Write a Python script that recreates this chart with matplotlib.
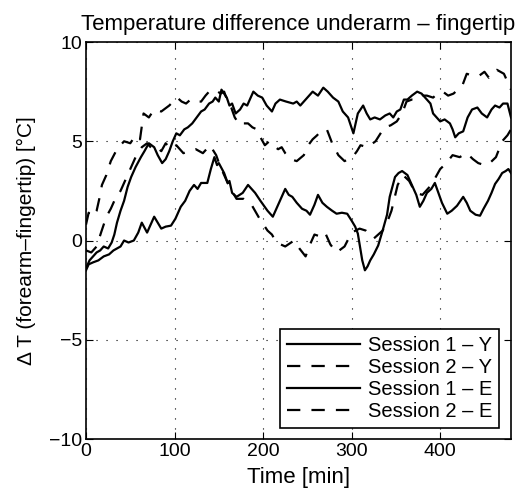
import numpy as np
import matplotlib.pyplot as plt

plt.rcParams['font.family'] = ['Liberation Sans', 'DejaVu Sans']
plt.rcParams['axes.unicode_minus'] = True

# Session 1 - Y (upper solid)
t_s1y = [0, 4, 8, 12, 16, 20, 25, 29, 32, 35, 39, 43, 47, 51, 56, 62, 66, 71, 74, 77, 81, 86, 90, 94,
         98, 102, 106, 111, 115, 120, 125, 130, 134, 139, 143, 146, 150, 153, 156, 159, 162, 165, 169,
         174, 178, 182, 186, 189, 194, 199, 204, 210, 214, 219, 226, 234, 238, 242, 248, 256, 262, 268,
         273, 279, 285, 290, 296, 302, 307, 313, 317, 321, 326, 332, 338, 343, 347, 351, 355, 359, 363,
         368, 374, 379, 385, 389, 392, 396, 400, 405, 411, 414, 417, 421, 426, 431, 436, 442, 447, 453,
         458, 462, 467, 471, 476, 480]
v_s1y = [-1.4, -1.0, -0.8, -0.6, -0.5, -0.3, -0.4, -0.1, 0.3, 0.9, 1.5, 2.0, 2.7, 3.2, 3.7, 4.2, 4.5,
         4.9, 4.8, 4.7, 4.3, 3.9, 4.1, 4.5, 5.0, 5.4, 5.3, 5.6, 5.7, 5.9, 6.2, 6.5, 6.6, 6.9, 7.0, 7.2,
         7.0, 7.6, 7.4, 7.2, 6.8, 6.9, 6.4, 6.6, 6.9, 6.8, 7.2, 7.5, 7.3, 7.2, 6.8, 6.5, 6.9, 7.1, 7.0,
         6.9, 7.0, 6.8, 7.1, 7.5, 7.3, 7.7, 7.5, 7.2, 7.0, 6.5, 6.2, 5.4, 6.4, 6.8, 6.4, 6.1, 6.2, 6.1,
         6.3, 6.4, 6.2, 6.5, 6.6, 7.1, 7.1, 7.3, 7.5, 7.4, 7.1, 6.9, 6.4, 6.2, 6.0, 6.1, 5.9, 5.6, 5.2,
         5.4, 5.5, 6.2, 6.6, 6.7, 6.4, 6.2, 6.6, 6.8, 6.7, 6.9, 6.9, 6.2]

# Session 2 - Y (upper dashed)
t_s2y = [0, 3, 7, 12, 15, 18, 23, 28, 35, 43, 50, 56, 61, 65, 71, 77, 85, 94, 103, 108, 113, 118, 122,
         130, 135, 139, 146, 152, 156, 160, 164, 168, 174, 178, 183, 188, 193, 197, 202, 207, 211, 217,
         221, 225, 231, 238, 246, 251, 256, 261, 265, 272, 278, 285, 292, 301, 306, 310, 318, 327, 337,
         344, 351, 357, 362, 368, 375, 380, 385, 392, 397, 403, 409, 415, 420, 425, 430, 437, 444, 450,
         455, 460, 464, 468, 472, 477, 480]
v_s2y = [0.8, 1.4, 1.2, 1.5, 2.1, 2.8, 3.3, 4.0, 4.6, 5.0, 4.9, 5.3, 5.1, 6.4, 6.2, 6.6, 6.5, 6.8, 7.2,
         7.0, 6.9, 7.1, 7.0, 7.0, 7.3, 7.5, 7.6, 7.4, 7.5, 7.0, 6.7, 6.2, 5.8, 5.9, 5.9, 5.7, 5.6, 5.2,
         4.8, 5.0, 4.8, 4.6, 4.7, 4.4, 4.1, 4.0, 4.3, 4.8, 5.1, 5.3, 5.5, 5.6, 4.9, 4.3, 4.0, 4.2, 4.5,
         4.8, 4.7, 5.0, 5.7, 5.8, 6.0, 6.4, 7.0, 7.1, 7.1, 7.3, 7.3, 7.2, 7.4, 7.5, 7.3, 7.4, 7.6, 7.8,
         8.4, 8.3, 8.3, 8.5, 8.2, 8.4, 8.6, 8.5, 8.4, 7.9, 7.6]

# Session 1 - E (lower solid)
t_s1e = [0, 3, 8, 14, 20, 26, 31, 35, 39, 43, 48, 54, 59, 63, 69, 73, 77, 81, 85, 90, 96, 101, 107, 112,
         117, 122, 126, 130, 137, 141, 145, 148, 150, 156, 160, 162, 165, 170, 177, 183, 191, 197, 205,
         211, 218, 225, 229, 233, 238, 244, 249, 253, 258, 262, 267, 272, 278, 283, 289, 295, 300, 304,
         307, 312, 315, 318, 321, 325, 330, 335, 340, 343, 349, 353, 357, 363, 369, 373, 377, 381, 385,
         390, 394, 398, 402, 408, 413, 419, 426, 430, 434, 440, 445, 449, 454, 458, 462, 466, 470, 474,
         477, 480]
v_s1e = [-1.5, -1.2, -1.1, -1.0, -0.8, -0.7, -0.5, -0.4, -0.3, 0.0, -0.1, 0.0, 0.4, 0.9, 0.4, 0.8, 1.2,
         0.9, 0.6, 0.7, 0.75, 1.1, 1.7, 2.0, 2.5, 2.8, 2.6, 2.9, 2.9, 3.6, 4.2, 3.8, 3.9, 3.4, 2.9, 3.0,
         2.4, 2.2, 2.4, 2.8, 2.4, 2.0, 1.5, 1.2, 1.9, 2.6, 2.3, 2.2, 1.9, 1.6, 1.5, 1.3, 1.8, 2.3, 1.9,
         1.7, 1.5, 1.35, 1.4, 1.35, 1.0, 0.7, 0.35, -1.0, -1.5, -1.3, -1.0, -0.7, -0.25, 0.5, 1.3, 2.2,
         3.2, 3.4, 3.5, 3.3, 2.7, 2.3, 1.7, 2.0, 2.4, 2.6, 2.9, 2.4, 1.9, 1.35, 1.5, 1.75, 2.2, 1.9, 1.5,
         1.3, 1.25, 1.6, 2.0, 2.4, 2.85, 3.1, 3.4, 3.5, 3.6, 3.4]

# Session 2 - E (lower dashed)
t_s2e = [0, 6, 12, 17, 23, 28, 34, 39, 44, 50, 57, 63, 69, 75, 80, 85, 90, 96, 102, 110, 117, 124, 132,
         140, 147, 151, 155, 161, 166, 170, 178, 187, 196, 205, 210, 215, 225, 235, 241, 248, 253, 258,
         265, 270, 276, 283, 292, 300, 309, 316, 325, 335, 340, 345, 352, 358, 365, 372, 380, 390, 395,
         400, 407, 414, 422, 430, 437, 443, 450, 456, 463, 470, 476, 480]
v_s2e = [-0.5, -0.6, -0.3, 0.4, 1.2, 1.6, 2.2, 2.5, 3.0, 3.6, 4.3, 4.7, 4.9, 4.6, 4.7, 4.5, 4.9, 4.6,
         4.8, 4.4, 4.5, 4.6, 4.4, 4.8, 4.3, 3.8, 3.4, 2.8, 2.4, 2.1, 2.1, 1.8, 1.1, 0.5, 0.3, -0.1, -0.3,
         0.0, -0.4, -0.8, -0.2, 0.3, 0.2, 0.4, -0.2, -0.6, -0.3, 0.4, 0.6, 0.5, 0.1, 0.5, 0.9, 1.5, 2.8,
         3.3, 3.0, 2.4, 2.3, 2.8, 3.2, 3.6, 3.9, 4.3, 4.2, 4.4, 4.1, 3.9, 3.8, 3.9, 4.2, 5.0, 5.3, 5.6]

fig = plt.figure(figsize=(5.26, 4.99), dpi=100)
ax = fig.add_axes([0.1635, 0.1202, 0.808, 0.7956])

lw = 1.6
dash = (6, 5)
ax.plot(t_s1y, v_s1y, 'k-', lw=lw, label='Session 1 \u2013 Y')
ax.plot(t_s2y, v_s2y, 'k--', lw=lw, dashes=dash, label='Session 2 \u2013 Y')
ax.plot(t_s1e, v_s1e, 'k-', lw=lw, label='Session 1 \u2013 E')
ax.plot(t_s2e, v_s2e, 'k--', lw=lw, dashes=dash, label='Session 2 \u2013 E')

ax.set_xlim(0, 480)
ax.set_ylim(-10, 10)
ax.set_xticks([0, 100, 200, 300, 400])
ax.set_yticks([-10, -5, 0, 5, 10])
ax.grid(True, color='k', linestyle=(0, (1, 8)), linewidth=0.8)
ax.tick_params(direction='in', top=True, right=True, labelsize=14, length=5, width=0.8, pad=3)
for s in ax.spines.values():
    s.set_linewidth(1.2)

ax.set_title('Temperature difference underarm \u2013 fingertip', fontsize=16, pad=9)
ax.set_xlabel('Time [min]', fontsize=16, labelpad=5)
ax.set_ylabel('\u0394 T (forearm\u2013fingertip) [\u00b0C]', fontsize=15, labelpad=9)

leg = ax.legend(loc='lower right', bbox_to_anchor=(0.972, 0.028), fontsize=14.5,
                handlelength=3.6, handletextpad=0.4, labelspacing=0.15, borderpad=0.35,
                borderaxespad=0, fancybox=False, framealpha=1, edgecolor='k')
leg.get_frame().set_linewidth(1.2)

fig.savefig('out.png', dpi=100)
